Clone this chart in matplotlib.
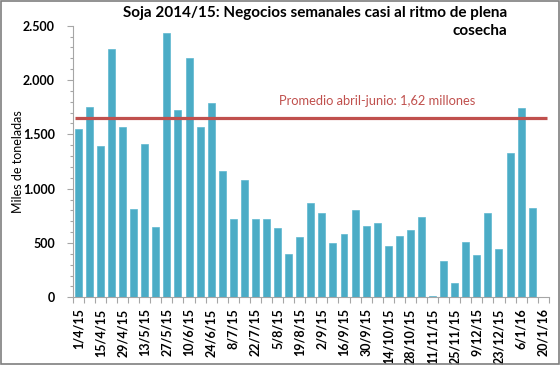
import matplotlib
matplotlib.use("Agg")
import matplotlib.pyplot as plt
import numpy as np
from matplotlib.patches import Rectangle

weeks = ["1/4/15", "8/4/15", "15/4/15", "22/4/15", "29/4/15", "6/5/15", "13/5/15", "20/5/15",
         "27/5/15", "3/6/15", "10/6/15", "17/6/15", "24/6/15", "1/7/15", "8/7/15", "15/7/15",
         "22/7/15", "29/7/15", "5/8/15", "12/8/15", "19/8/15", "26/8/15", "2/9/15", "9/9/15",
         "16/9/15", "23/9/15", "30/9/15", "7/10/15", "14/10/15", "21/10/15", "28/10/15", "4/11/15",
         "11/11/15", "18/11/15", "25/11/15", "2/12/15", "9/12/15", "16/12/15", "23/12/15", "30/12/15",
         "6/1/16", "13/1/16", "20/1/16"]
values = [1550, 1750, 1390, 2290, 1570, 810, 1410, 650,
          2430, 1720, 2200, 1570, 1790, 1165, 720, 1080,
          720, 722, 640, 400, 555, 865, 780, 503,
          585, 800, 660, 680, 470, 565, 615, 740,
          12, 330, 135, 510, 385, 775, 440, 1325,
          1740, 825, np.nan]
average = 1650
avg_label = "Promedio abril-junio: 1,62 millones"
title = "Soja 2014/15: Negocios semanales casi al ritmo de plena\ncosecha"
ylabel = "Miles de toneladas"

plt.rcParams['font.family'] = ['Lato', 'DejaVu Sans']

fig = plt.figure(figsize=(5.6, 3.65), dpi=100)
ax = fig.add_axes([0.130, 0.1855, 0.850, 0.744])

x = np.arange(len(weeks))
bar_color = "#4BACC6"
ax.bar(x, values, width=0.63, color=bar_color, edgecolor="#5FB8D0", linewidth=0.5, zorder=2)
ax.plot([-0.3, len(weeks) - 0.7], [average, average], color="#C0504D", lw=2.3, zorder=3,
        solid_capstyle="butt")

ax.set_xlim(-0.5, len(weeks) - 0.5)
ax.set_ylim(0, 2500)

ax.set_yticks(np.arange(0, 2501, 500))
ax.set_yticklabels([f"{v:,}".replace(",", ".") for v in range(0, 2501, 500)],
                   fontsize=9, fontweight="bold")
ax.set_yticks(np.arange(0, 2501, 100), minor=True)

ax.set_xticks(x[::2])
ax.set_xticklabels(weeks[::2], rotation=90, fontsize=9, fontweight="bold")
ax.set_xticks(np.arange(-0.5, len(weeks), 1.0), minor=True)
ax.tick_params(axis="x", which="major", length=0, pad=8)
ax.tick_params(axis="x", which="minor", length=4, color="#A6A6A6", width=0.8)
ax.tick_params(axis="y", which="major", length=4, color="#A6A6A6", width=0.8, pad=9)
ax.tick_params(axis="y", which="minor", length=2.5, color="#A6A6A6", width=0.8)

for s in ["top", "right"]:
    ax.spines[s].set_visible(False)
for s in ["left", "bottom"]:
    ax.spines[s].set_color("#A6A6A6")
    ax.spines[s].set_linewidth(0.8)

ax.set_ylabel(ylabel, fontsize=9)
ax.yaxis.set_label_coords(-0.103, 0.5)

ax.text(27.0, 1805, avg_label, color="#C0504D", fontsize=9.3, ha="center", va="center")

fig.text(507 / 560, 1 - 6 / 365, title, ha="right", va="top", fontsize=11,
         fontweight="bold", multialignment="right", linespacing=1.35)

fig.patches.append(Rectangle((0.002, 0.003), 0.996, 0.994, transform=fig.transFigure,
                             fill=False, edgecolor="#7F7F7F", linewidth=1.2))

fig.savefig("out.png", dpi=100)
